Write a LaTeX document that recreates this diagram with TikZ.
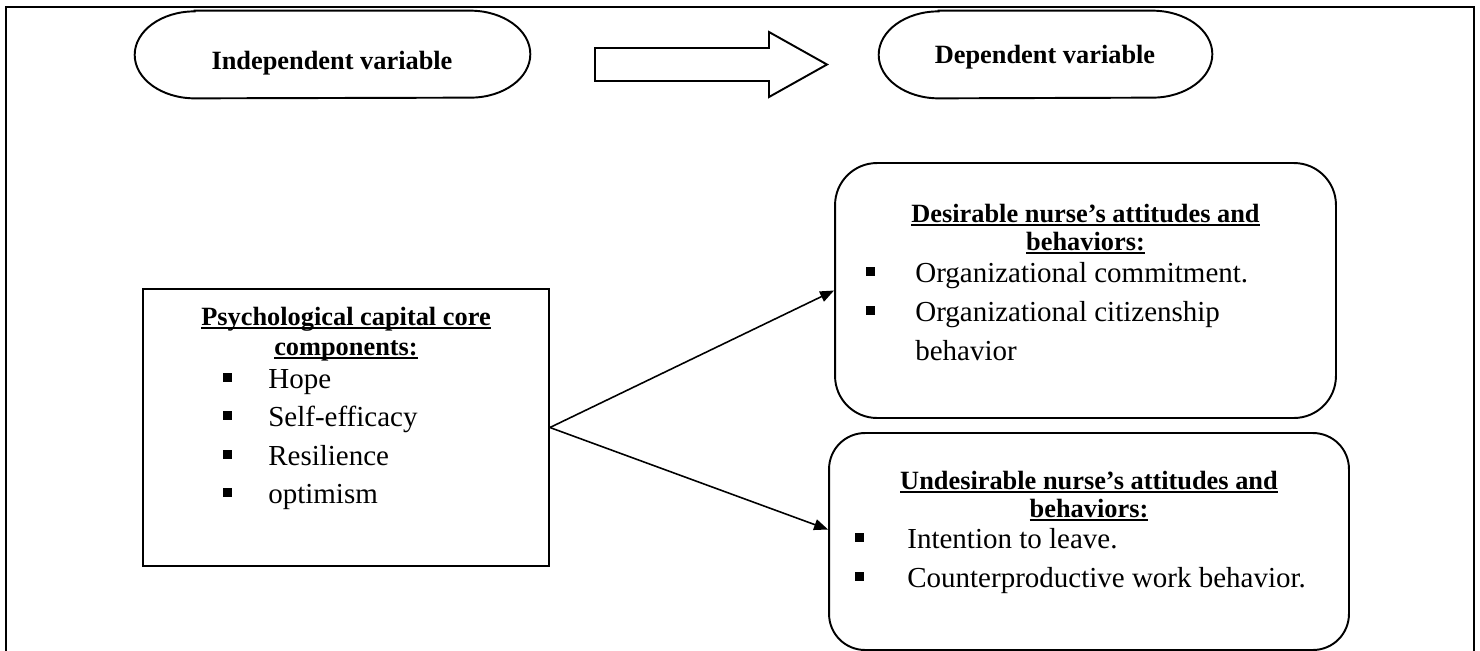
\documentclass[tikz,border=0pt]{standalone}
\usepackage{fontspec}
\setmainfont{Liberation Serif}
\usetikzlibrary{arrows.meta}

\newcommand{\undertext}[1]{\setbox0=\hbox{#1}\rlap{\rule[-2.3pt]{\wd0}{1.1pt}}\box0}
\newcommand{\sqbullet}{\rule[3.7pt]{5.1pt}{5.1pt}}
\newcommand{\bitem}[2][25.6pt]{\makebox[#1][l]{\sqbullet}#2}

\begin{document}
\begin{tikzpicture}[x=0.02cm, y=-0.02cm,
  box/.style={draw, line width=1.1pt, inner sep=0pt},
  capsule/.style={inner sep=0pt, minimum height=1.74cm},
  capline/.style={line width=1.1pt},
  title/.style={font=\bfseries\fontsize{15}{18}\selectfont, inner sep=0pt},
  item/.style={font=\fontsize{16.5}{20}\selectfont, inner sep=0pt},
  link/.style={-{Triangle[length=0.28cm,width=0.22cm]}, line width=0.9pt}]

\useasboundingbox (0,0) rectangle (1480,650);

% Frame
\draw[line width=1.5pt] (6,7) rectangle (1474,680);

% Variable capsules
\node[capsule, minimum width=7.9cm] (ind) at (332.5,54.5) {};
\node[capsule, minimum width=6.66cm] (dep) at (1045.5,54.5) {};
\foreach \n in {ind,dep}
  \draw[capline] ([xshift=1.2cm]\n.north west) -- ([xshift=-1.2cm]\n.north east)
    arc[start angle=90, end angle=-90, x radius=1.2cm, y radius=0.87cm]
    -- ([xshift=1.2cm]\n.south west)
    arc[start angle=270, end angle=90, x radius=1.2cm, y radius=0.87cm] -- cycle;
\node[title, anchor=base] (indtext) at (332,69) {Independent variable};
\node[title, anchor=base] (deptext) at (1045,63) {Dependent variable};

% Block arrow
\draw[capline, line join=miter] (595,48) -- (769,48) -- (769,32) -- (827,64.5)
  -- (769,97) -- (769,81) -- (595,81) -- cycle;

% Psychological capital
\node[box, minimum width=8.12cm, minimum height=5.54cm] (psych) at (346,427.5) {};
\node[title, anchor=base] (psycht1) at (346,325) {\undertext{Psychological capital core}};
\node[title, anchor=base] (psycht2) at (346,355) {\undertext{components:}};
\foreach \txt [count=\i] in {Hope, Self-efficacy, Resilience, optimism}
  \node[item, anchor=base west] (cap\i) at (223,349.5+38.5*\i) {\bitem{\txt}};

% Desirable outcomes
\node[box, rounded corners=0.84cm, minimum width=10.02cm, minimum height=5.1cm] (desire) at (1085.5,290.5) {};
\node[title, anchor=base] (dest1) at (1085.5,222) {\undertext{Desirable nurse’s attitudes and}};
\node[title, anchor=base] (dest2) at (1085.5,250) {\undertext{behaviors:}};
\node[item, anchor=base west] (des1) at (866,282) {\bitem[27.9pt]{Organizational commitment.}};
\node[item, anchor=base west] (des2) at (866,321) {\bitem[27.9pt]{Organizational citizenship}};
\node[item, anchor=base west] (des3) at (915,360) {behavior};

% Undesirable outcomes
\node[box, rounded corners=0.72cm, minimum width=10.4cm, minimum height=4.34cm] (undes) at (1089,541.5) {};
\node[title, anchor=base] (undt1) at (1089,489) {\undertext{Undesirable nurse’s attitudes and}};
\node[title, anchor=base] (undt2) at (1089,517) {\undertext{behaviors:}};
\node[item, anchor=base west] (und1) at (855,548) {\bitem[29.6pt]{Intention to leave.}};
\node[item, anchor=base west] (und2) at (855,587) {\bitem[29.6pt]{Counterproductive work behavior.}};

% Arrows
\draw[link] (psych.east) -- (desire.west);
\draw[link] (psych.east) -- ([yshift=0.24cm]undes.west);

\end{tikzpicture}
\end{document}
